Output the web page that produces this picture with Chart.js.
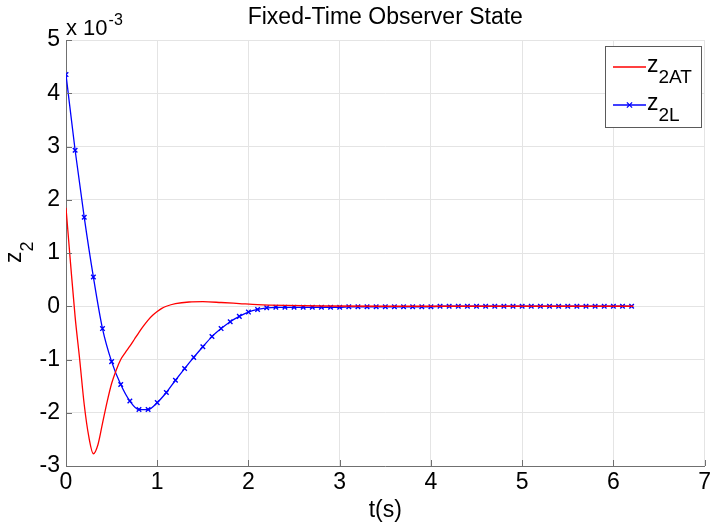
<!DOCTYPE html>
<html><head><meta charset="utf-8">
<script src="https://cdn.jsdelivr.net/npm/chart.js@4/dist/chart.umd.min.js"></script>
<style>html,body{margin:0;padding:0;background:#fff;}canvas{display:block;}</style>
</head><body>
<canvas id="c" width="710" height="524"></canvas>
<script>
// ---- data (values in units of 1e-3) ----
const tAT = [0, 0.05, 0.1, 0.15, 0.2, 0.25, 0.3, 0.35, 0.4, 0.45, 0.5, 0.55, 0.6, 0.65, 0.7, 0.75, 0.8, 0.85, 0.9, 0.95, 1.0, 1.05, 1.1, 1.2, 1.35, 1.5, 1.7, 1.9, 2.1, 2.4, 2.8, 3.5, 4.5, 5.5, 6.22];
const zAT = [1.85, 0.8, -0.2, -1.0, -1.85, -2.45, -2.77, -2.6, -2.2, -1.8, -1.45, -1.2, -1.0, -0.87, -0.75, -0.62, -0.49, -0.37, -0.26, -0.17, -0.1, -0.04, 0.0, 0.05, 0.08, 0.085, 0.07, 0.05, 0.03, 0.015, 0.005, 0, 0, 0, 0];
const tL = [0, 0.1, 0.2, 0.3, 0.4, 0.5, 0.6, 0.7, 0.8, 0.9,
            1.0, 1.1, 1.2, 1.3, 1.4, 1.5, 1.6, 1.7, 1.8, 1.9,
            2.0, 2.1, 2.2, 2.3, 2.4, 2.5, 2.6, 2.7, 2.8, 2.9,
            3.0, 3.1, 3.2, 3.3, 3.4, 3.5, 3.6, 3.7, 3.8, 3.9,
            4.0, 4.1, 4.2, 4.3, 4.4, 4.5, 4.6, 4.7, 4.8, 4.9,
            5.0, 5.1, 5.2, 5.3, 5.4, 5.5, 5.6, 5.7, 5.8, 5.9,
            6.0, 6.1, 6.2];
const zL = [4.35, 2.93, 1.67, 0.55, -0.42, -1.04, -1.47, -1.78, -1.94, -1.94,
            -1.81, -1.62, -1.39, -1.17, -0.96, -0.76, -0.57, -0.42, -0.29, -0.19,
            -0.11, -0.06, -0.03, -0.02, -0.02, -0.02, -0.02, -0.02, -0.02, -0.02,
            -0.02, -0.01, -0.01, -0.01, -0.01, -0.01, -0.01, -0.01, -0.01, -0.01,
            -0.01, 0, 0, 0, 0, 0, 0, 0, 0, 0,
            0, 0, 0, 0, 0, 0, 0, 0, 0, 0,
            0, 0, 0];
const xTicks = [0, 1, 2, 3, 4, 5, 6, 7];
const yTicks = [-3, -2, -1, 0, 1, 2, 3, 4, 5];
const titleText = 'Fixed-Time Observer State';
const xTitle = 't(s)';
const seriesNames = [['z', '2AT'], ['z', '2L']];

const FONT = '"Liberation Sans", Arial, Helvetica, sans-serif';
const RED = 'rgb(255,0,0)';
const BLUE = 'rgb(0,0,255)';

const overlay = {
  id: 'overlay',
  afterDraw(chart) {
    const {ctx, chartArea: a, scales: {x, y}} = chart;
    ctx.save();
    // inward tick marks
    ctx.strokeStyle = '#6f6f6f';
    ctx.lineWidth = 1;
    ctx.beginPath();
    yTicks.forEach(v => { const py = Math.round(y.getPixelForValue(v)) + 0.5; ctx.moveTo(a.left, py); ctx.lineTo(a.left + 6, py); });
    xTicks.forEach(v => { const px = Math.round(x.getPixelForValue(v)) + 0.5; ctx.moveTo(px, a.bottom); ctx.lineTo(px, a.bottom - 6); });
    ctx.stroke();

    ctx.fillStyle = '#000';
    ctx.textAlign = 'left';
    ctx.textBaseline = 'alphabetic';
    // exponent label
    ctx.font = '22px ' + FONT;
    ctx.fillText('x 10', a.left, 35);
    const w = ctx.measureText('x 10').width;
    ctx.font = '16px ' + FONT;
    ctx.fillText('-3', a.left + w + 1, 25);

    // y axis title z_2 (rotated)
    ctx.save();
    ctx.translate(21, 263);
    ctx.rotate(-Math.PI / 2);
    ctx.font = '23px ' + FONT;
    ctx.fillText('z', 0, 0);
    const zw = ctx.measureText('z').width;
    ctx.font = '18px ' + FONT;
    ctx.fillText('2', zw, 12);
    ctx.restore();

    // legend
    const lx = 605.5, ly = 46.5, lw = 96, lh = 81;
    ctx.fillStyle = '#fff';
    ctx.fillRect(lx, ly, lw, lh);
    ctx.strokeStyle = '#5a5a5a';
    ctx.lineWidth = 1;
    ctx.strokeRect(lx, ly, lw, lh);
    const rows = [{c: RED, y: 67, marker: false, name: seriesNames[0]}, {c: BLUE, y: 105, marker: true, name: seriesNames[1]}];
    rows.forEach(r => {
      ctx.strokeStyle = r.c;
      ctx.lineWidth = 1.3;
      ctx.beginPath();
      ctx.moveTo(613, r.y); ctx.lineTo(646, r.y);
      ctx.stroke();
      if (r.marker) {
        ctx.beginPath();
        const mx = 629.5, s = 2.6;
        ctx.moveTo(mx - s, r.y - s); ctx.lineTo(mx + s, r.y + s);
        ctx.moveTo(mx - s, r.y + s); ctx.lineTo(mx + s, r.y - s);
        ctx.stroke();
      }
      ctx.fillStyle = '#000';
      ctx.font = '23px ' + FONT;
      ctx.fillText(r.name[0], 647, r.y + 5);
      const nw = ctx.measureText(r.name[0]).width;
      ctx.font = '19px ' + FONT;
      ctx.fillText(r.name[1], 647 + nw, r.y + 16);
    });
    ctx.restore();
  }
};

new Chart(document.getElementById('c'), {
  type: 'line',
  data: {
    datasets: [
      {
        label: 'z2AT',
        data: tAT.map((t, i) => ({x: t, y: zAT[i]})),
        borderColor: RED,
        borderWidth: 1.3,
        pointRadius: 0,
        fill: false,
        cubicInterpolationMode: 'monotone'
      },
      {
        label: 'z2L',
        data: tL.map((t, i) => ({x: t, y: zL[i]})),
        borderColor: BLUE,
        backgroundColor: BLUE,
        borderWidth: 1.3,
        pointStyle: 'crossRot',
        pointRadius: 3.2,
        pointBorderWidth: 1.4,
        pointBorderColor: BLUE,
        fill: false,
        cubicInterpolationMode: 'monotone'
      }
    ]
  },
  options: {
    responsive: false,
    animation: false,
    devicePixelRatio: 1,
    layout: {padding: {left: 0, right: 1, top: 0, bottom: 0}},
    plugins: {
      legend: {display: false},
      tooltip: {enabled: false},
      title: {
        display: true,
        text: titleText,
        fullSize: false,
        color: '#000',
        font: {family: FONT, size: 23, weight: 'normal'},
        padding: {top: 4, bottom: 8.4}
      }
    },
    scales: {
      x: {
        type: 'linear',
        min: 0, max: 7,
        afterBuildTicks: s => { s.ticks = xTicks.map(v => ({value: v})); },
        afterFit: s => { s.height = 58; s.paddingLeft = 0; s.paddingRight = 0; },
        ticks: {color: '#000', font: {family: FONT, size: 23}, padding: 3, maxRotation: 0, autoSkip: false},
        grid: {color: '#e4e4e4', lineWidth: 1, drawTicks: false},
        border: {display: true, color: '#707070', width: 1},
        title: {display: true, text: xTitle, color: '#000', font: {family: FONT, size: 23}, padding: {top: 0, bottom: 0}}
      },
      y: {
        type: 'linear',
        min: -3, max: 5,
        afterBuildTicks: s => { s.ticks = yTicks.map(v => ({value: v})); },
        afterFit: s => { s.width = 66; s.paddingTop = 0; s.paddingBottom = 0; },
        ticks: {color: '#000', font: {family: FONT, size: 23}, padding: 6, autoSkip: false},
        grid: {color: '#e4e4e4', lineWidth: 1, drawTicks: false},
        border: {display: true, color: '#707070', width: 1}
      }
    }
  },
  plugins: [overlay]
});
</script>
</body></html>
